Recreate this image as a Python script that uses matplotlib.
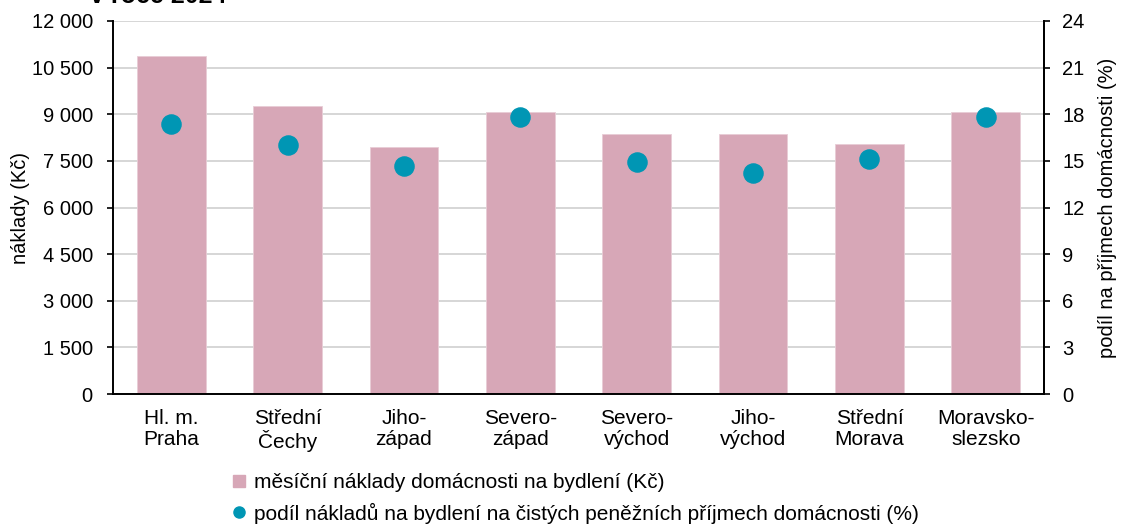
import matplotlib
matplotlib.use("Agg")
import matplotlib.pyplot as plt
from matplotlib.lines import Line2D

plt.rcParams['font.family'] = ['Liberation Sans', 'DejaVu Sans']

regions = ["Hl. m.\nPraha", "Střední\nČechy", "Jiho-\nzápad", "Severo-\nzápad",
           "Severo-\nvýchod", "Jiho-\nvýchod", "Střední\nMorava", "Moravsko-\nslezsko"]
costs = [10870, 9265, 7950, 9075, 8365, 8350, 8045, 9070]
share = [17.4, 16.0, 14.7, 17.8, 14.9, 14.2, 15.1, 17.8]
left_ticks = [0, 1500, 3000, 4500, 6000, 7500, 9000, 10500, 12000]
right_ticks = [0, 3, 6, 9, 12, 15, 18, 21, 24]

bar_color = "#D7A7B7"
dot_color = "#0096B4"
fs = 14.5
fs_lab = 15

fig = plt.figure(figsize=(11.21, 5.24), dpi=100)
ax = fig.add_axes([0.1008, 0.248, 0.8305, 0.712])
x = list(range(len(regions)))
ax.bar(x, costs, width=0.59, color=bar_color, edgecolor="#E8CDD6", linewidth=0.6, zorder=2)
ax.set_ylim(0, 12000)
ax.set_xlim(-0.5, len(regions) - 0.5)
ax.set_yticks(left_ticks)
ax.set_yticklabels([f"{v:,}".replace(",", " ") for v in left_ticks])
ax.set_xticks(x)
ax.set_xticklabels(regions, linespacing=1.12)
ax.tick_params(axis='x', length=0, pad=11, labelsize=fs_lab)
ax.tick_params(axis='y', length=4.5, width=1.2, direction='out', labelsize=fs, pad=10)
ax.grid(axis='y', color='#D0D0D0', linewidth=1.2, zorder=0)
ax.set_axisbelow(True)
ax.spines['top'].set_visible(False)
for s in ['left', 'right', 'bottom']:
    ax.spines[s].set_linewidth(1.4)
    ax.spines[s].set_color('black')
ax.set_ylabel("náklady (Kč)", fontsize=fs, labelpad=1)

ax2 = ax.twinx()
ax2.scatter(x, share, s=190, color=dot_color, zorder=3)
ax2.set_ylim(0, 24)
ax2.set_yticks(right_ticks)
ax2.tick_params(axis='y', length=4.5, width=1.2, direction='out', labelsize=fs, pad=8.5)
for s in ['top', 'left', 'bottom']:
    ax2.spines[s].set_visible(False)
ax2.spines['right'].set_linewidth(1.4)
ax2.set_ylabel("podíl na příjmech domácnosti (%)", fontsize=fs, labelpad=10)

handles = [
    Line2D([0], [0], marker='s', color='none', markerfacecolor=bar_color, markeredgecolor=bar_color, markersize=9),
    Line2D([0], [0], marker='o', color='none', markerfacecolor=dot_color, markeredgecolor=dot_color, markersize=8),
]
labels = ["měsíční náklady domácnosti na bydlení (Kč)",
          "podíl nákladů na bydlení na čistých peněžních příjmech domácnosti (%)"]
fig.legend(handles, labels, loc='upper left', bbox_to_anchor=(0.199, 0.117), frameon=False,
           fontsize=fs_lab, handlelength=0.55, handletextpad=0.45, labelspacing=0.5, borderpad=0)

fig.text(0.08, 0.994, "v roce 2024", fontsize=18, fontweight='bold', va='baseline', ha='left')

fig.savefig("out.png", dpi=100)
